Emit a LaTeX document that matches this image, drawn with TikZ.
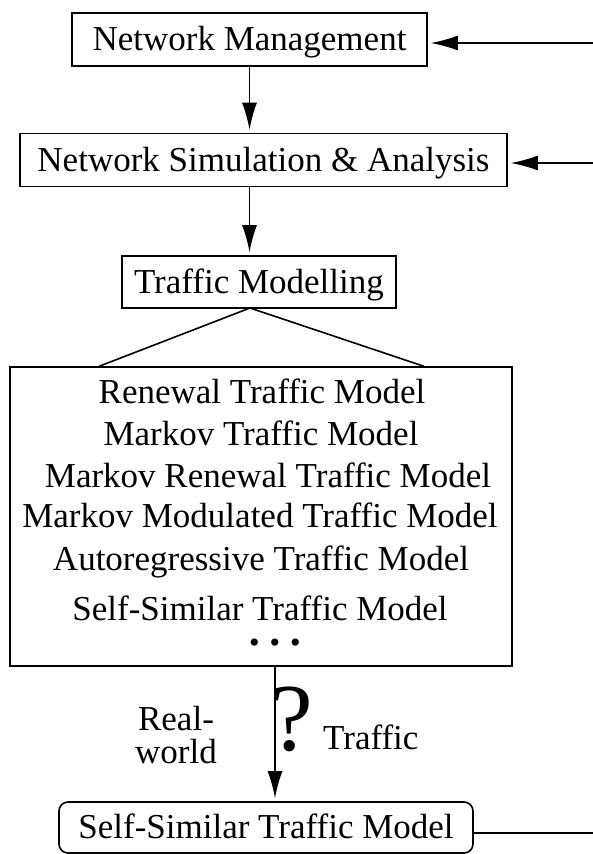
\documentclass[tikz,border=0pt]{standalone}
\usepackage{fontspec}
\setmainfont{Liberation Serif}
\usetikzlibrary{arrows.meta,positioning,calc}
\tikzstyle{l1}=[line width=1.6]
\tikzstyle{box}=[draw, l1, inner sep=0pt, text height=22pt, text depth=0pt, font=\fontsize{35}{40}\selectfont]
\tikzstyle{arr}=[l1, -{Latex[length=27pt, width=15pt]}, shorten >=3pt]
\tikzstyle{txt}=[inner sep=0pt, anchor=base, font=\fontsize{35}{33}\selectfont]

\begin{document}
\begin{tikzpicture}[x=1pt, y=-1pt]
    \useasboundingbox (0,0) rectangle (593,854);

    \node (nm) [box, minimum width=355pt, minimum height=53pt] at (249.5,39.5) {Network Management};
    \node (nsa) [box, minimum width=487pt, minimum height=53pt] at (263.5,160) {Network Simulation \& Analysis};
    \node (tm) [box, minimum width=274pt, minimum height=52pt] at (259,282) {Traffic Modelling};
    \node (models) [draw, l1, minimum width=502pt, minimum height=299pt] at (261,516.5) {};
    \node (ssm) [box, rounded corners=9pt, minimum width=414pt, minimum height=51pt] at (266,827.5) {Self-Similar Traffic Model};

    % list of models
    \foreach \x/\y/\t [count=\i] in {262/403/Renewal Traffic Model,
                                     261/445/Markov Traffic Model,
                                     268/487/Markov Renewal Traffic Model,
                                     260/527/Markov Modulated Traffic Model,
                                     261/570/Autoregressive Traffic Model,
                                     260/620/Self-Similar Traffic Model}
        \node (row\i) [txt] at (\x,\y) {\t};
    \node (dots) [txt, font=\fontsize{30}{30}\selectfont] at (275,652) {\textbullet\hspace{10pt}\textbullet\hspace{10pt}\textbullet};

    % feedback from the right
    \coordinate (fb1) at (593,43);
    \coordinate (fb2) at (593,163);
    \coordinate (fb3) at (593,833);
    \draw[arr] (fb1) -- (fb1 -| nm.east);
    \draw[arr] (fb2) -- (fb2 -| nsa.east);
    \draw[l1] (fb3 -| ssm.east) -- (fb3);

    \draw[arr] (nm.south) -- (nm.south |- nsa.north);
    \draw[arr] (nm.south |- nsa.south) -- (nm.south |- tm.north);

    \coordinate (apex) at (250,308);
    \draw[l1] ($(models.north west)!0.179!(models.north east)$) -- (apex) -- ($(models.north west)!0.823!(models.north east)$);

    \draw[arr] ([xshift=14pt]models.south) -- ([xshift=14pt]models.south |- ssm.north);
    \node (q) [inner sep=0pt, anchor=base west, font=\fontsize{96}{96}\selectfont] at (270,750) {?};
    \node (lbl) [txt, anchor=base west] at (323,749) {Traffic};
    \node (real) [txt, align=center] at (176,763) {Real-\\world};
\end{tikzpicture}
\end{document}
